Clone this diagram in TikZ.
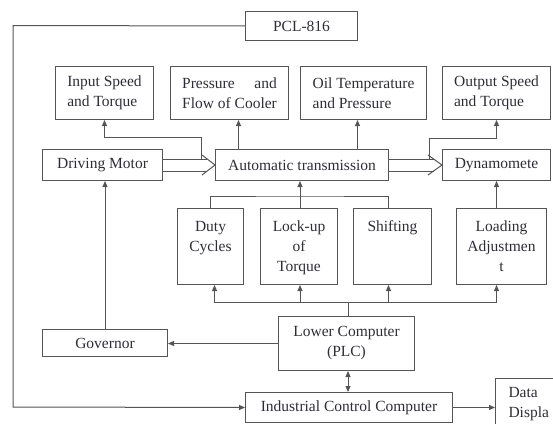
\documentclass[tikz,border=0pt]{standalone}
\usepackage{fontspec}
\setmainfont{Liberation Serif}
\usetikzlibrary{arrows.meta}
\definecolor{ln}{RGB}{85,85,85}
\definecolor{tx}{RGB}{45,45,55}
\newlength\fcw
\begin{document}
\begin{tikzpicture}[x=1pt,y=-1pt,
  box/.style={draw=ln,line width=1pt,rectangle,anchor=north west,inner sep=0pt,text=tx,
    font=\fontsize{15.5}{20}\selectfont},
  arr/.style={draw=ln,line width=1pt,-{Triangle[length=6pt,width=5pt]}},
  dbl/.style={draw=ln,line width=1pt,{Triangle[length=6pt,width=5pt]}-{Triangle[length=6pt,width=5pt]}},
  ln/.style={draw=ln,line width=1pt}]
\useasboundingbox (0,0) rectangle (553,423);
% nodes
\node[box,minimum width=112pt,minimum height=29pt] (pcl) at (245,11) {PCL-816};
\node[box,minimum width=98pt,minimum height=53pt,align=left] (in) at (55,66) {Input Speed\\and Torque};
\node[box,minimum width=118pt,minimum height=53pt,align=left] (pres) at (170,66)
  {\settowidth{\fcw}{Flow of Cooler}\makebox[\fcw][s]{Pressure and}\\Flow of Cooler};
\node[box,minimum width=126pt,minimum height=53pt,align=left] (oil) at (300,66) {Oil Temperature\\and Pressure};
\node[box,minimum width=108pt,minimum height=53pt,align=left] (out) at (442,66) {Output Speed\\and Torque};
\node[box,minimum width=120pt,minimum height=31pt] (motor) at (42,149) {Driving Motor};
\node[box,minimum width=173pt,minimum height=31pt] (auto) at (215,149) {Automatic transmission};
\node[box,minimum width=108pt,minimum height=31pt] (dyn) at (442,149) {Dynamomete};
\node[box] (duty) at (177,208) {\parbox[c][76pt][t]{66pt}{\centering\rule{0pt}{23pt}Duty\\Cycles\par}};
\node[box] (lock) at (260,208) {\parbox[c][76pt][t]{77pt}{\centering\rule{0pt}{23pt}Lock-up\\of\\Torque\par}};
\node[box] (shift) at (353,208) {\parbox[c][76pt][t]{78pt}{\centering\rule{0pt}{23pt}Shifting\par}};
\node[box] (load) at (456,208) {\parbox[c][76pt][t]{90pt}{\centering\rule{0pt}{23pt}Loading\\Adjustmen\\t\par}};
\node[box,minimum width=136pt,minimum height=54pt,align=center] (plc) at (278,316) {Lower Computer\\(PLC)};
\node[box,minimum width=125pt,minimum height=27pt] (gov) at (42,329) {Governor};
\node[box,minimum width=207pt,minimum height=30pt] (icc) at (245,392) {Industrial Control Computer};
\node[box,minimum height=52pt,text width=50pt,inner xsep=13pt,align=left] (data) at (495,378) {Data\\Displa};
% helper coordinates
\coordinate (f1) at (13,25.5);
\coordinate (f2) at (13,407);
\coordinate (c1) at (201,159);
\coordinate (k1) at (201,137);
\coordinate (c2) at (429,159);
\coordinate (k2) at (429,138);
\coordinate (tb) at (300,196);
\coordinate (bus) at (348,302);
% feedback loop
\draw[arr] (pcl.west) -- (f1) -- (f2) -- (icc.west);
% hollow arrows
\draw[ln] (motor.east |- 0,159) -- (207,159);
\draw[ln] (motor.east |- 0,171) -- (207,171);
\draw[ln] (202,155) -- (auto.west) -- (202,175);
\draw[ln] (auto.east |- 0,159) -- (433.6,159);
\draw[ln] (auto.east |- 0,171) -- (433.6,171);
\draw[ln] (428,155) -- (dyn.west) -- (428,175);
% measurement arrows
\draw[arr] (c1) -- (k1) -| (in.south);
\draw[arr] ([xshift=9pt]pres.south |- auto.north) -- ([xshift=9pt]pres.south);
\draw[arr] ([xshift=-6pt]oil.south |- auto.north) -- ([xshift=-6pt]oil.south);
\draw[arr] (c2) -- (k2) -| (out.south);
% control boxes to transmission
\draw[ln] (duty.north) |- (tb) -| ([xshift=-4pt]shift.north);
\draw[arr] (lock.north -| tb) -- (auto.south -| tb);
\draw[arr] (load.north -| dyn.south) -- (dyn.south);
% PLC bus
\draw[ln] (plc.north -| bus) -- (bus);
\draw[arr] (bus) -| ([xshift=4pt]duty.south);
\draw[arr] (bus) -| (lock.south -| tb);
\draw[arr] (bus) -| ([xshift=-4pt]shift.south);
\draw[arr] (bus) -| (load.south -| dyn.south);
% governor
\draw[arr] (plc.west) -- (plc.west -| gov.east);
\draw[arr] (gov.north) -- (gov.north |- motor.south);
% PLC <-> ICC
\draw[dbl] (plc.south -| bus) -- (icc.north -| bus);
% ICC -> data
\draw[arr] (icc.east) -- (icc.east -| data.west);
\end{tikzpicture}
\end{document}
